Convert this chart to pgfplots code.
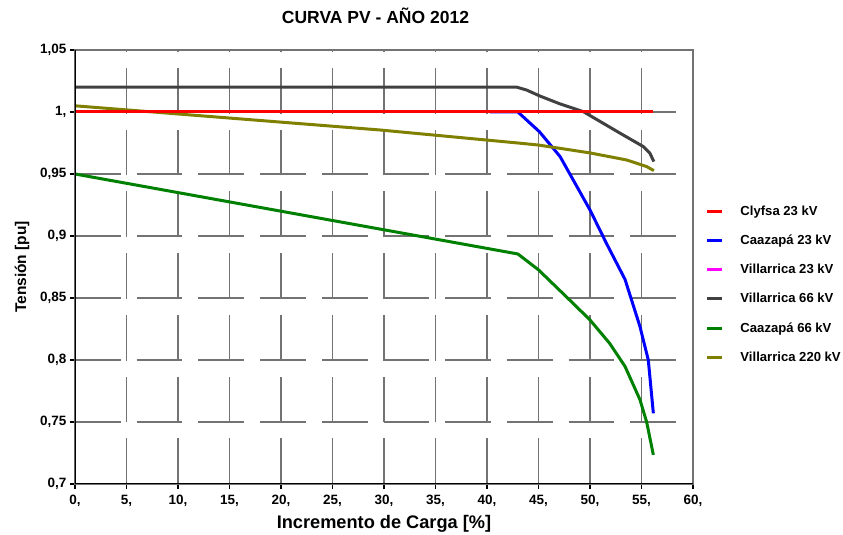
\documentclass[border=0pt]{standalone}
\usepackage{fontspec}
\setmainfont{Liberation Sans}
\usepackage{pgfplots}
\pgfplotsset{compat=1.18}

\definecolor{cRed}{HTML}{FF0000}
\definecolor{cBlue}{HTML}{0000FF}
\definecolor{cMag}{HTML}{FF00FF}
\definecolor{cGray}{HTML}{404040}
\definecolor{cGreen}{HTML}{008000}
\definecolor{cOlive}{HTML}{808000}

\begin{document}
\begin{tikzpicture}
\begin{axis}[
    name=ax,
    scale only axis,
    width=618pt, height=434pt,
    xmin=0, xmax=60, ymin=0.7, ymax=1.05,
    xtick={0,5,...,60},
    xticklabels={{0,},{5,},{10,},{15,},{20,},{25,},{30,},{35,},{40,},{45,},{50,},{55,},{60,}},
    ytick={0.7,0.75,0.8,0.85,0.9,0.95,1,1.05},
    yticklabels={{0,7},{0,75},{0,8},{0,85},{0,9},{0,95},{1,},{1,05}},
    tick label style={font=\fontsize{13.5}{15}\selectfont\bfseries},
    xticklabel style={yshift=-3pt},
    xtick pos=bottom, ytick pos=left,
    tick align=outside,
    major tick length=5pt,
    tick style={black, line width=1.3pt},
    axis line style={black!55, line width=1.5pt},
    grid=major,
    major grid style={black!55, line width=1.5pt, dash pattern=on 45.7pt off 16pt},
    xlabel={Incremento de Carga [\%]},
    ylabel={Tensión [pu]},
    xlabel style={font=\fontsize{18.2}{20}\selectfont\bfseries, yshift=-1pt},
    ylabel style={font=\fontsize{15.5}{17}\selectfont\bfseries, yshift=4pt},
    legend style={at={(1.015,0.651)}, anchor=north west, draw=none, fill=none,
        font=\fontsize{13.1}{14}\selectfont\bfseries, row sep=14.2pt,
        nodes={inner xsep=8pt},
        /tikz/every odd column/.append style={column sep=9pt}},
    legend cell align=left,
    legend image code/.code={\draw[#1, line width=3pt] (0pt,0pt) -- (15pt,0pt);},
    every axis plot/.append style={line width=3pt, line join=round},
]
% Villarrica 23 kV (lies under Clyfsa)
\addplot[cMag, forget plot] coordinates {(0,1.0) (56.1,1.0)};
% Caazapá 23 kV
\addplot[cBlue, forget plot] coordinates {
    (40.3,1.0) (43.0,1.0) (45.1,0.984) (47.1,0.964) (50.0,0.921) (51.6,0.894)
    (53.4,0.865) (54.85,0.827) (55.66,0.800) (56.15,0.757)};
% Villarrica 66 kV
\addplot[cGray, forget plot] coordinates {
    (0,1.02) (42.9,1.02) (43.85,1.0177) (45.1,1.013) (47.1,1.0065) (49.35,1.0003)
    (52.9,0.983) (55.2,0.972) (55.8,0.967) (56.2,0.960)};
% Caazapá 66 kV
\addplot[cGreen, forget plot] coordinates {
    (0,0.95) (43.0,0.8855) (45.0,0.8727) (47.7,0.851) (50.0,0.8323) (51.9,0.8135)
    (53.4,0.7948) (54.85,0.768) (55.5,0.750) (56.15,0.7235)};
% Villarrica 220 kV
\addplot[cOlive, forget plot] coordinates {
    (0,1.005) (29.6,0.9855) (43,0.975) (44.95,0.9734) (50,0.967) (53.56,0.9613)
    (55.5,0.956) (56.2,0.9527)};
% Clyfsa 23 kV
\addplot[cRed, forget plot] coordinates {(0,1.0) (56.1,1.0)};

\addlegendimage{cRed}\addlegendentry{Clyfsa 23 kV}
\addlegendimage{cBlue}\addlegendentry{Caazapá 23 kV}
\addlegendimage{cMag}\addlegendentry{Villarrica 23 kV}
\addlegendimage{cGray}\addlegendentry{Villarrica 66 kV}
\addlegendimage{cGreen}\addlegendentry{Caazapá 66 kV}
\addlegendimage{cOlive}\addlegendentry{Villarrica 220 kV}

\draw[black, line width=2pt] (rel axis cs:0,1) -- (rel axis cs:0,0) -- (rel axis cs:1,0);
\end{axis}
\node[font=\fontsize{17.5}{19}\selectfont\bfseries] at ([xshift=-8.5pt,yshift=34.5pt]ax.north) {CURVA PV - AÑO 2012};
\pgfresetboundingbox
\useasboundingbox ([shift={(-75pt,-51pt)}]ax.south west) rectangle ([shift={(150pt,50pt)}]ax.north east);
\end{tikzpicture}
\end{document}
